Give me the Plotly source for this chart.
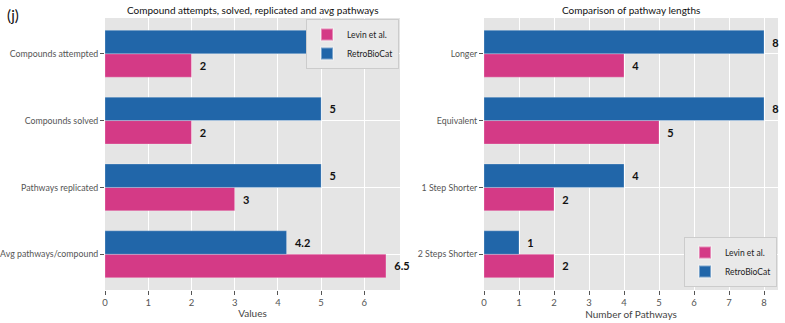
import plotly.graph_objects as go

# Left panel data
left_cats = ['Compounds attempted', 'Compounds solved', 'Pathways replicated', 'Avg pathways/compound']
left_levin = [2, 2, 3, 6.5]
left_retro = [5, 5, 5, 4.2]

# Right panel data
right_cats = ['Longer', 'Equivalent', '1 Step Shorter', '2 Steps Shorter']
right_levin = [4, 5, 2, 2]
right_retro = [8, 8, 4, 1]

PINK = '#d43a86'
BLUE = '#2166a9'
BG = '#e5e5e5'
FONT = 'Lato'

W, H = 785, 323
ML, MR, MT, MB = 105, 7, 18, 33
PW = W - ML - MR
PH = H - MT - MB

fig = go.Figure()


def add_pair(cats, levin, retro, xa, ya, legend):
    for name, vals, col in [('Levin et al.', levin, PINK), ('RetroBioCat', retro, BLUE)]:
        fig.add_trace(go.Bar(
            y=cats, x=vals, orientation='h', name=name,
            marker=dict(color=col, line=dict(color='rgba(255,255,255,0.4)', width=0.6)),
            texttemplate='\u00a0\u00a0%{x}', textposition='outside',
            textfont=dict(family=FONT, size=11, color='#111111', weight='bold'),
            cliponaxis=False, xaxis=xa, yaxis=ya, legend=legend,
            offsetgroup=name,
        ))


add_pair(left_cats, left_levin, left_retro, 'x', 'y', 'legend')
add_pair(right_cats, right_levin, right_retro, 'x2', 'y2', 'legend2')

axis_common = dict(
    showgrid=True, gridcolor='white', gridwidth=1.2, zeroline=False,
    ticks='outside', ticklen=4, tickcolor='#555555', showline=False,
    automargin=False,
    tickfont=dict(family=FONT, size=9.5, color='#555555'),
)
ytick_font = dict(family=FONT, size=8.8, color='#555555')

legend_common = dict(
    bgcolor='#e9e9e9', bordercolor='#cccccc', borderwidth=1,
    font=dict(family=FONT, size=8.5, color='#222222'),
    tracegroupgap=0, itemwidth=30, itemsizing='constant',
)

fig.update_layout(
    width=W, height=H,
    margin=dict(l=ML, r=MR, t=MT, b=MB, autoexpand=False),
    paper_bgcolor='white', plot_bgcolor=BG,
    barmode='group', bargap=0.3, bargroupgap=0,
    font=dict(family=FONT, size=10, color='#444444'),
    xaxis=dict(domain=[0, (400 - ML) / PW], range=[0, 6.825], dtick=1, anchor='y',
               title=dict(text='Values', font=dict(size=10, color='#444444'), standoff=2),
               **axis_common),
    yaxis=dict(domain=[0, 1], anchor='x', categoryorder='array',
               categoryarray=left_cats[::-1], range=[-0.535, 3.535],
               **{**axis_common, 'tickfont': ytick_font}),
    xaxis2=dict(domain=[(484 - ML) / PW, 1], range=[0, 8.4], dtick=1, anchor='y2',
                title=dict(text='Number of Pathways', font=dict(size=10, color='#444444'), standoff=2),
                **axis_common),
    yaxis2=dict(domain=[0, 1], anchor='x2', categoryorder='array',
                categoryarray=right_cats[::-1], range=[-0.535, 3.535],
                **{**axis_common, 'tickfont': ytick_font}),
    legend=dict(x=(399 - ML) / PW, xanchor='right', y=1 - 1 / PH, yanchor='top', **legend_common),
    legend2=dict(x=1 - 1 / PW, xanchor='right', y=3 / PH, yanchor='bottom', **legend_common),
    annotations=[
        dict(text='Compound attempts, solved, replicated and avg pathways',
             x=(400 - ML) / 2 / PW, xanchor='center', y=1, yshift=8, yanchor='middle',
             xref='paper', yref='paper', showarrow=False,
             font=dict(family=FONT, size=10, color='#111111')),
        dict(text='Comparison of pathway lengths',
             x=((484 + 778) / 2 - ML) / PW, xanchor='center', y=1, yshift=8, yanchor='middle',
             xref='paper', yref='paper', showarrow=False,
             font=dict(family=FONT, size=10, color='#111111')),
        dict(text='(j)', x=(5 - ML) / PW, xanchor='left', y=1, yshift=3, yanchor='middle',
             xref='paper', yref='paper', showarrow=False,
             font=dict(family=FONT, size=15, color='#111111')),
    ],
)

fig.write_html("out.html", config={'displayModeBar': False},
               post_script="document.body.style.margin='0';")
